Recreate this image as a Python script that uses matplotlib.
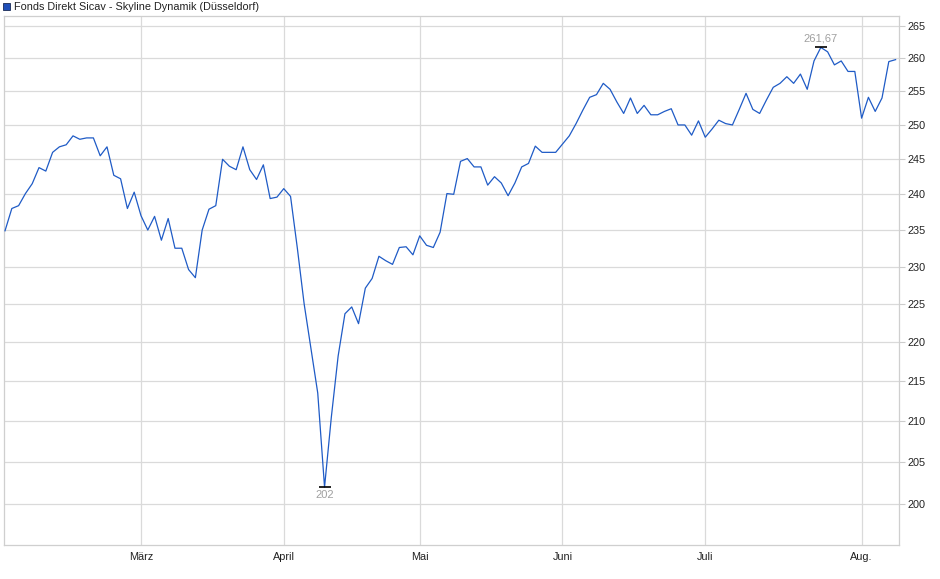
import numpy as np
import matplotlib
matplotlib.use('Agg')
import matplotlib.pyplot as plt
from matplotlib.ticker import FixedLocator, NullLocator, FuncFormatter

# Kurs (Handelstage, Februar bis August)
kurs = [234.9, 238.0, 238.4, 240.1, 241.5, 243.8, 243.3, 246.0, 246.8, 247.1,
        248.4, 247.9, 248.1, 248.1, 245.5, 246.8, 242.7, 242.2, 238.0, 240.3,
        237.0, 235.0, 236.9, 233.6, 236.6, 232.5, 232.5, 229.6, 228.5, 235.0,
        237.9, 238.4, 245.0, 244.0, 243.5, 246.8, 243.5, 242.1, 244.2, 239.4,
        239.6, 240.8, 239.7, 232.5, 225.0, 219.2, 213.5, 202.0, 210.5, 218.2,
        223.7, 224.6, 222.4, 227.1, 228.4, 231.4, 230.8, 230.3, 232.6, 232.7,
        231.6, 234.2, 232.9, 232.6, 234.7, 240.1, 240.0, 244.7, 245.1, 243.9,
        243.9, 241.3, 242.5, 241.6, 239.8, 241.6, 243.9, 244.4, 246.9, 246.0,
        246.0, 246.0, 247.2, 248.4, 250.2, 252.2, 254.1, 254.5, 256.2, 255.3,
        253.4, 251.7, 254.0, 251.7, 252.9, 251.5, 251.5, 252.0, 252.4, 250.0,
        250.0, 248.5, 250.6, 248.2, 249.4, 250.7, 250.2, 250.0, 252.3, 254.7,
        252.3, 251.7, 253.7, 255.6, 256.2, 257.2, 256.2, 257.6, 255.3, 259.6,
        261.67, 261.0, 259.0, 259.6, 258.0, 258.0, 251.0, 254.1, 252.0, 254.0,
        259.5, 259.8]

monate = ['März', 'April', 'Mai', 'Juni', 'Juli', 'Aug.']
monat_start = [20, 41, 61, 82, 103, 126]   # erster Handelstag im Monat
y_ticks = list(range(200, 270, 5))

titel = 'Fonds Direkt Sicav - Skyline Dynamik (Düsseldorf)'

plt.rcParams['font.family'] = ['Liberation Sans', 'DejaVu Sans']

kurs = np.array(kurs)
x = np.arange(len(kurs))

fig = plt.figure(figsize=(9.4, 5.79), dpi=100)
ax = fig.add_axes([4/940, 1 - 545/579, 895/940, 529/579])

ax.plot(x, kurs, color='#1f5bc6', lw=0.9, zorder=3)

ax.set_yscale('log')
ax.set_ylim(195.23, 266.56)
ax.set_xlim(-0.15, 131.5)

ax.yaxis.set_major_locator(FixedLocator(y_ticks))
ax.yaxis.set_minor_locator(NullLocator())
ax.yaxis.set_major_formatter(FuncFormatter(lambda v, p: '%d' % v))
ax.yaxis.tick_right()
ax.xaxis.set_major_locator(FixedLocator(monat_start))
ax.xaxis.set_minor_locator(NullLocator())
ax.set_xticklabels(monate)

ax.tick_params(axis='y', which='both', length=4, color='#cccccc',
               labelsize=7.8, labelcolor='#222222', pad=2)
ax.tick_params(axis='x', length=0, labelsize=7.8, labelcolor='#222222', pad=5)

ax.grid(True, color='#dadada', lw=0.9)
ax.set_axisbelow(True)
for s in ax.spines.values():
    s.set_color('#cfcfcf')
    s.set_linewidth(0.9)


def de_zahl(v):
    s = ('%.2f' % v).replace('.', ',')
    if s.endswith(',00'):
        s = s[:-3]
    return s


i_max = int(np.argmax(kurs))
i_min = int(np.argmin(kurs))
ax.plot([i_max], [kurs[i_max]], marker='_', ms=9, mew=1.2, color='black', zorder=4)
ax.plot([i_min], [kurs[i_min]], marker='_', ms=9, mew=1.2, color='black', zorder=4)
ax.annotate(de_zahl(kurs[i_max]), (i_max, kurs[i_max]), xytext=(0, 3),
            textcoords='offset points', ha='center', va='bottom',
            fontsize=8, color='#a0a0a0')
ax.annotate(de_zahl(kurs[i_min]), (i_min, kurs[i_min]), xytext=(0, -2),
            textcoords='offset points', ha='center', va='top',
            fontsize=8, color='#a0a0a0')

# Legende oben links
fig.patches.append(plt.Rectangle((3/940, 1 - 10/579), 7/940, 7/579,
                                 transform=fig.transFigure, facecolor='#1f4fb8',
                                 edgecolor='#1a2a55', lw=0.6))
fig.text(14/940, 1 - 6.5/579, titel, fontsize=7.8, color='#222222',
         ha='left', va='center')

fig.savefig('out.png', dpi=100)
